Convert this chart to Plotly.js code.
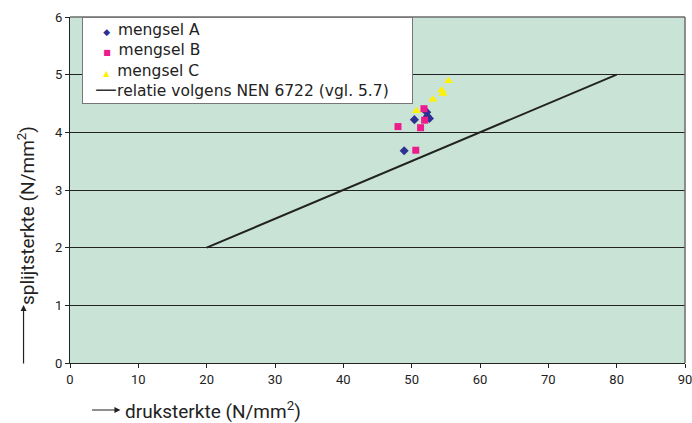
<!DOCTYPE html>
<html>
<head>
<meta charset="utf-8">
<script src="https://cdn.plot.ly/plotly-3.0.1.min.js"></script>
<style>html,body{margin:0;padding:0;background:#fff;}#chart{width:692px;height:423px;}</style>
</head>
<body>
<div id="chart"></div>
<script>
// mengsel A
const aX = [48.9, 50.4, 52.2, 52.6, 52.3];
const aY = [3.68, 4.22, 4.35, 4.24, 4.28];
// mengsel B
const bX = [48.0, 50.6, 51.3, 51.8, 51.9];
const bY = [4.10, 3.69, 4.08, 4.41, 4.21];
// mengsel C
const cX = [50.7, 53.1, 54.4, 54.6, 55.4];
const cY = [4.37, 4.57, 4.73, 4.67, 4.89];
// relatie volgens NEN 6722
const relX = [20, 80];
const relY = [2, 5];

const names = ['mengsel A', 'mengsel B', 'mengsel C', 'relatie volgens NEN 6722 (vgl. 5.7)'];
const colors = ['#2e3192', '#ec1c8c', '#fff200', '#222222'];
const xTicks = [0, 10, 20, 30, 40, 50, 60, 70, 80, 90];
const yTicks = [0, 1, 2, 3, 4, 5, 6];

const tickFont = {family: 'Liberation Sans Narrow, Roboto, sans-serif', size: 13, color: '#222'};
const titleFont = {family: 'Liberation Sans Narrow, Roboto, sans-serif', size: 19, color: '#222'};

const traces = [
  {x: aX, y: aY, name: names[0], mode: 'markers', type: 'scatter',
   marker: {symbol: 'diamond', size: 7, color: colors[0]}},
  {x: bX, y: bY, name: names[1], mode: 'markers', type: 'scatter',
   marker: {symbol: 'square', size: 7, color: colors[1]}},
  {x: cX, y: cY, name: names[2], mode: 'markers', type: 'scatter',
   marker: {symbol: 'triangle-up', size: 8, color: colors[2]}},
  {x: relX, y: relY, name: names[3], mode: 'lines', type: 'scatter',
   line: {color: colors[3], width: 2}}
];

// legend built as one text box (tight line spacing like the reference)
const NB = '\u00A0';
function sp(n, px) { return '<span style="font-size:' + px + 'px">' + NB.repeat(n) + '</span>'; }
const glyphs = ['\u25C6', '\u25A0', '\u25B2'];
const glyphSize = [9, 8, 8];
const legendLines = names.map(function (n, i) {
  if (i < 3) {
    return sp(4, 16) + '<span style="font-size:' + glyphSize[i] + 'px;color:' + colors[i] + '">' + glyphs[i] + '</span>' + sp(2, 12) + n;
  }
  return sp(2, 19) + '<span style="font-size:22px;color:#333">\u2014</span>' + n;
});

const layout = {
  width: 692, height: 423,
  margin: {l: 69.5, r: 7, t: 17, b: 60},
  paper_bgcolor: '#ffffff',
  plot_bgcolor: '#c9e4d6',
  showlegend: false,
  xaxis: {range: [0, 90], tickvals: xTicks, ticktext: xTicks.map(String),
    showgrid: false, zeroline: false, showline: true, linecolor: '#222', linewidth: 1,
    ticks: 'outside', ticklen: 4, tickcolor: '#222', tickfont: tickFont, fixedrange: true,
    ticklabeloverflow: 'allow'},
  yaxis: {range: [0, 6], tickvals: yTicks, ticktext: yTicks.map(String),
    showgrid: true, gridcolor: '#222', gridwidth: 1, zeroline: false,
    showline: true, linecolor: '#222', linewidth: 1,
    ticks: 'outside', ticklen: 4, tickcolor: '#222', tickfont: tickFont, fixedrange: true},
  shapes: [
    {type: 'line', xref: 'paper', yref: 'paper', x0: 0, x1: 1, y0: 1, y1: 1,
     line: {color: '#6d6d6d', width: 1.5}},
    {type: 'line', xref: 'paper', yref: 'paper', x0: 1, x1: 1, y0: 0, y1: 1,
     line: {color: '#6d6d6d', width: 1.5}}
  ],
  annotations: [
    {xref: 'paper', yref: 'paper', x: (82 - 69.5) / 615.5, y: 1, xanchor: 'left', yanchor: 'top',
     text: legendLines.join('<br>'), showarrow: false, align: 'left', valign: 'middle',
     width: 329, height: 85, borderpad: 0, bgcolor: '#ffffff', bordercolor: '#777', borderwidth: 1,
     font: {family: 'DejaVu Sans, sans-serif', size: 15.5, color: '#222'}},
    {xref: 'paper', yref: 'paper', x: (123 - 69.5) / 615.5, y: -47 / 346, xanchor: 'left', yanchor: 'middle',
     text: 'druksterkte (N/mm<sup>2</sup>)', showarrow: false, font: titleFont},
    {xref: 'paper', yref: 'paper', x: (120 - 69.5) / 615.5, y: -47 / 346,
     ax: -30, ay: 0, text: '', showarrow: true, arrowhead: 2, arrowsize: 1, arrowwidth: 1.2, arrowcolor: '#222'},
    {xref: 'paper', yref: 'paper', x: (26 - 69.5) / 615.5, y: (363 - 215.5) / 346, xanchor: 'center', yanchor: 'middle',
     text: 'splijtsterkte (N/mm<sup>2</sup>)', textangle: -90, showarrow: false, font: titleFont},
    {xref: 'paper', yref: 'paper', x: (23 - 69.5) / 615.5, y: (363 - 305) / 346,
     ax: 0, ay: 60, text: '', showarrow: true, arrowhead: 2, arrowsize: 1, arrowwidth: 1.2, arrowcolor: '#222'}
  ]
};

Plotly.newPlot('chart', traces, layout, {displayModeBar: false, staticPlot: true});
</script>
</body>
</html>
